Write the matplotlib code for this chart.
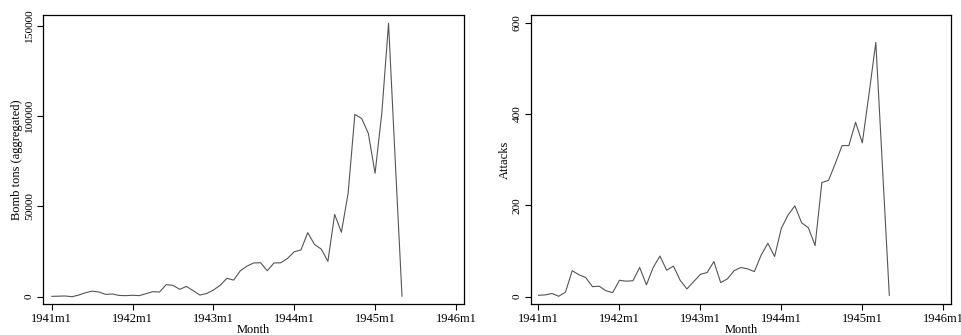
import matplotlib
matplotlib.use('Agg')
import matplotlib.pyplot as plt

# monthly series, 1941m1 .. 1945m5
tons = [200, 300, 400, 0, 900, 2200, 3100, 2600, 1300, 1500, 700, 600,
        800, 600, 1700, 2800, 2600, 6700, 6300, 4100, 5700, 3300, 900, 1800,
        3700, 6300, 10200, 9200, 14400, 17000, 18700, 18800, 14400, 18700, 18800, 21200,
        24900, 25900, 35500, 29000, 26400, 19600, 45600, 35700, 57300, 101000, 98800, 90500,
        68400, 101600, 151500, 75000, 300]
attacks = [3, 4, 7, 1, 10, 57, 48, 42, 22, 23, 13, 9,
           36, 34, 35, 64, 26, 64, 89, 58, 67, 36, 17, 33,
           49, 53, 77, 31, 39, 57, 64, 61, 55, 91, 117, 88,
           150, 179, 199, 162, 151, 112, 250, 255, 292, 331, 331, 382,
           337, 445, 557, 280, 3]
years = [1941, 1942, 1943, 1944, 1945, 1946]
tick_labels = ['%dm1' % y for y in years]
tick_pos = [(y - 1941) * 12 for y in years]
months = list(range(len(tons)))

plt.rcParams['font.family'] = 'Liberation Serif'
plt.rcParams['axes.linewidth'] = 0.9

fig = plt.figure(figsize=(9.62, 3.35), dpi=100)
ax1 = fig.add_axes([0.0447, 0.0925, 0.4376, 0.8627])
ax2 = fig.add_axes([0.5517, 0.0925, 0.4369, 0.8627])


def style(ax, ylabel, yticks, ylim, xlim):
    ax.set_xlim(*xlim)
    ax.set_ylim(*ylim)
    ax.set_xticks(tick_pos)
    ax.set_xticklabels(tick_labels, fontsize=9)
    ax.set_yticks(yticks)
    ax.set_yticklabels([str(v) for v in yticks], fontsize=8.2, rotation=90, va='center')
    ax.tick_params(length=4, width=0.8, pad=2.5, color='black')
    ax.set_xlabel('Month', fontsize=9, labelpad=-1)
    ax.set_ylabel(ylabel, fontsize=9, labelpad=1.5)


ax1.plot(months, tons, color='#555555', lw=0.8)
style(ax1, 'Bomb tons (aggregated)', [0, 50000, 100000, 150000], (-4044, 156060), (-1.3, 61.2))

ax2.plot(months, attacks, color='#555555', lw=0.8)
style(ax2, 'Attacks', [0, 200, 400, 600], (-16, 617), (-1.15, 61.15))

fig.savefig('out.png', dpi=100)
